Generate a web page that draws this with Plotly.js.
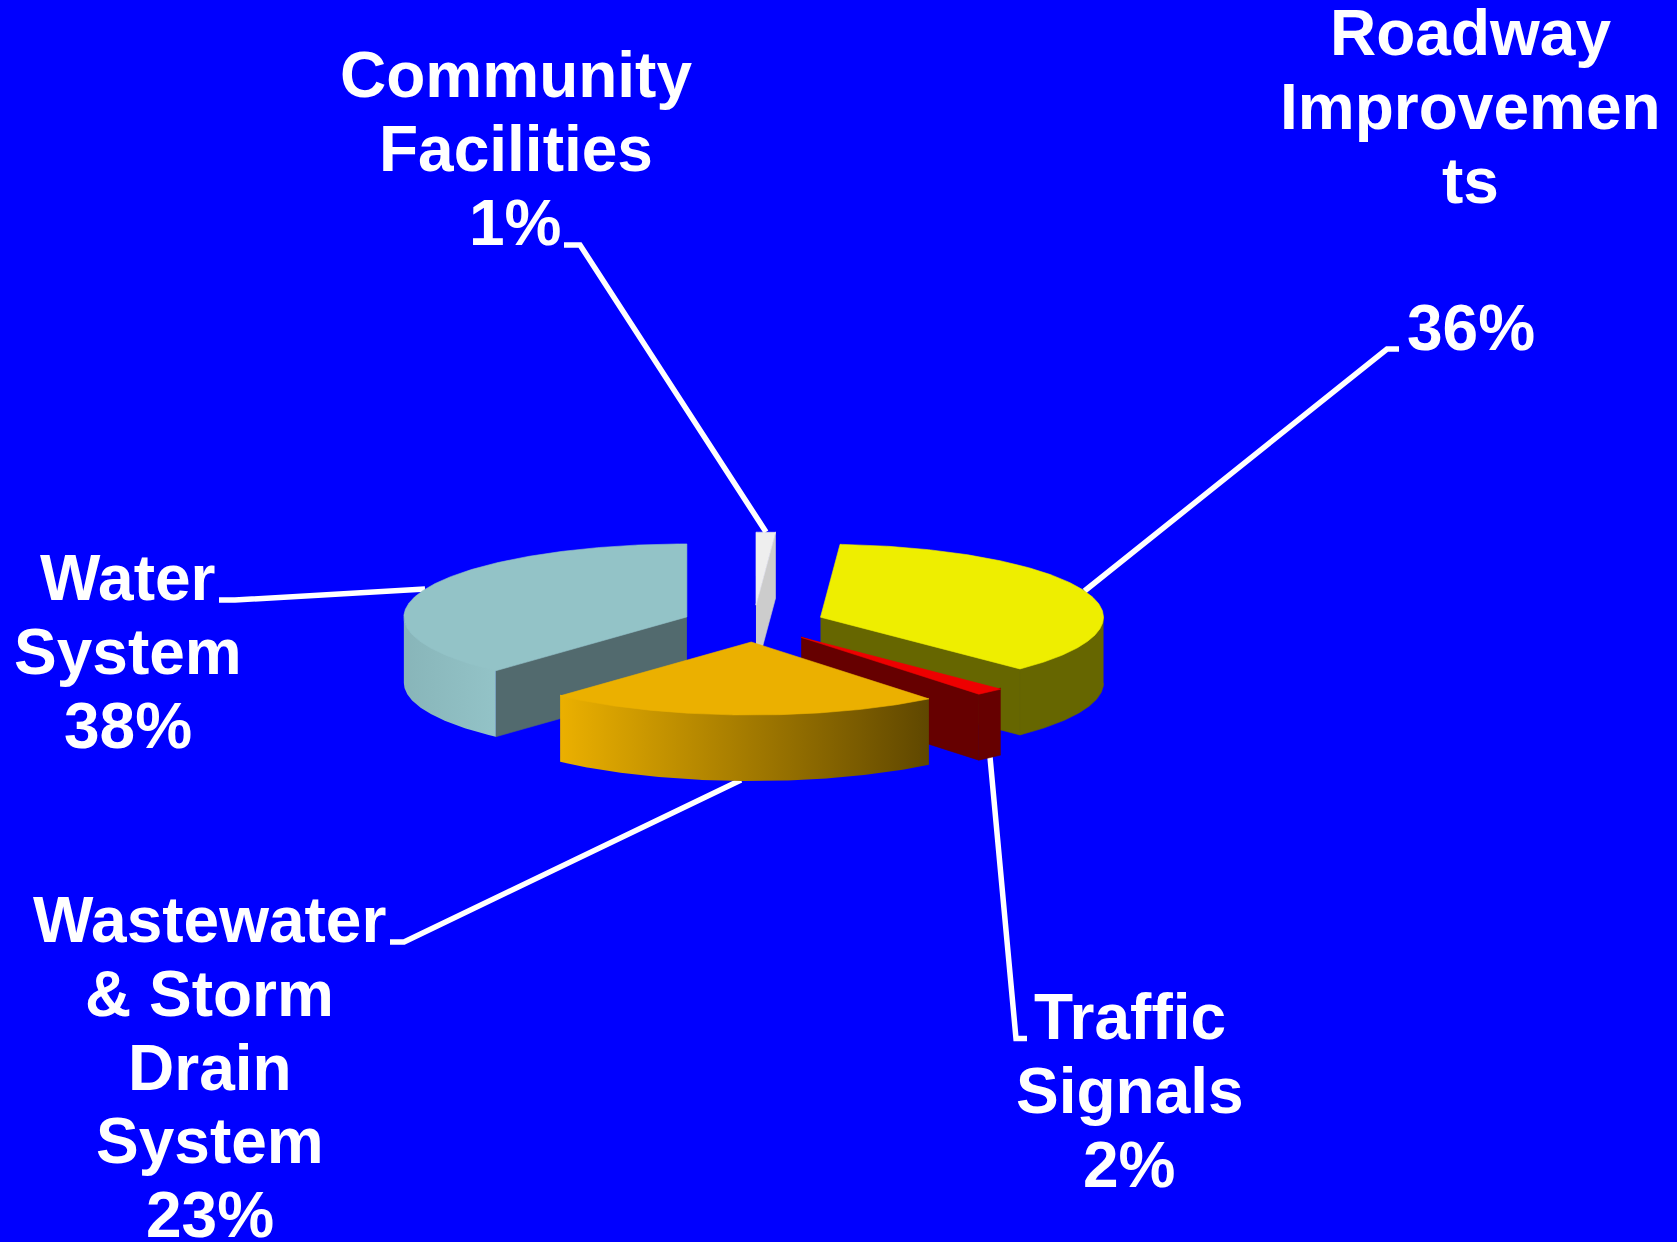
<!DOCTYPE html>
<html>
<head>
<meta charset="utf-8">
<script src="https://cdn.plot.ly/plotly-3.0.1.min.js"></script>
<style>html,body{margin:0;padding:0;background:#0000FF}#chart{width:1677px;height:1242px}</style>
</head>
<body>
<div id="chart"></div>
<script>
// Data: clockwise from the back of the pie
const categories = ["Community Facilities", "Roadway Improvements", "Traffic Signals", "Wastewater & Storm Drain System", "Water System"];
const shares = [1.1, 36.45, 1.65, 22.6, 38.2];
const topColors = ["#EEEEEE", "#EEEE00", "#EE0000", "#EBB000", "#93C3C7"];
const faceColors = ["#CCCCCC", "#666600", "#660000", "#EBB000", "#526A6E"];
const wallColors = [["#CCCCCC", "#CCCCCC"], ["#666600", "#666600"], ["#660000", "#660000"], ["#EBB000", "#5F4700"], ["#88B5B9", "#93C3C7"]];
// Painter's order: back slices first, front slice last
const drawOrder = [0, 4, 1, 2, 3];

// Label lines (text wraps as in the picture; the percentage is appended from the shares)
const labelLines = [
  ["Community", "Facilities"],
  ["Roadway", "Improvemen", "ts", ""],
  ["Traffic", "Signals"],
  ["Wastewater", "& Storm", "Drain", "System"],
  ["Water", "System"]
];
const labelCenterX = [515.5, 1470.5, 1129.5, 209.5, 127.5];
const labelFirstBaseline = [97.5, 55, 1039.5, 942, 600.5];
const lineStep = 73.8;
const fontSize = 64;

// Leader lines, one polyline per category
const leaderX = [[564, 580, 766], [1399, 1387, 1084.5], [1027, 1016, 990], [390, 404, 741], [219, 235, 425]];
const leaderY = [[245, 245, 532], [349, 349, 591], [1038.5, 1038.5, 757], [942, 942, 780], [600, 600, 589]];

// Pie projection
const pie = {cx: 753.5, cy: 623.6, r: 283, tilt: 73 / 283, depth: 66, pull: 71.5};

const rad = d => d * Math.PI / 180;
const traces = [];

function poly(name, xs, ys, color, gradient) {
  const t = {
    type: "scatter", mode: "lines", name: name, x: xs, y: ys, fill: "toself",
    hoverinfo: "skip", showlegend: false
  };
  if (gradient) {
    t.line = {width: 0, color: gradient[0]};
    t.fillgradient = {type: "horizontal", colorscale: [[0, gradient[0]], [1, gradient[1]]]};
  } else {
    t.line = {width: 0.6, color: color};
    t.fillcolor = color;
  }
  traces.push(t);
}

leaderX.forEach((xs, i) => traces.push({
  type: "scatter", mode: "lines", name: categories[i] + " leader", x: xs, y: leaderY[i],
  line: {color: "#FFFFFF", width: 5.5}, hoverinfo: "skip", showlegend: false
}));

const total = shares.reduce((a, b) => a + b, 0);
let acc = 0;
const spans = shares.map(v => { const a0 = acc / total * 360; acc += v; return [a0, acc / total * 360]; });

drawOrder.forEach(i => {
  const a0 = spans[i][0], a1 = spans[i][1];
  const mid = rad((a0 + a1) / 2);
  const ox = pie.cx + pie.pull * Math.sin(mid);
  const oy = pie.cy - pie.pull * pie.tilt * Math.cos(mid);
  const px = a => ox + pie.r * Math.sin(rad(a));
  const py = a => oy - pie.r * pie.tilt * Math.cos(rad(a));
  const steps = (s, e) => { const n = Math.max(2, Math.ceil(Math.abs(e - s) * 2)); return Array.from({length: n + 1}, (_, k) => s + (e - s) * k / n); };

  // radial cut face that turns toward the viewer: the trailing edge on the right side, the leading edge on the left
  const face = a1 <= 180 ? a1 : (a0 >= 180 ? a0 : null);
  if (face !== null) {
    poly(categories[i] + " cut face",
      [ox, px(face), px(face), ox],
      [oy - 0.5, py(face) - 0.5, py(face) + pie.depth, oy + pie.depth],
      faceColors[i]);
  }
  // outer wall, front half only
  const w0 = Math.max(a0, 90), w1 = Math.min(a1, 270);
  if (w1 > w0) {
    const as = steps(w0, w1);
    const rs = as.slice().reverse();
    const flat = wallColors[i][0] === wallColors[i][1];
    poly(categories[i] + " wall",
      as.map(px).concat(rs.map(px)),
      as.map(a => py(a) - 1).concat(rs.map(a => py(a) + pie.depth)),
      wallColors[i][0], flat ? null : wallColors[i]);
  }
  // top surface
  const as = steps(a0, a1);
  poly(categories[i], [ox].concat(as.map(px), [ox]), [oy].concat(as.map(py), [oy]), topColors[i]);
});

const annotations = [];
labelLines.forEach((lines, i) => {
  const all = lines.concat([Math.round(shares[i]) + "%"]);
  all.forEach((txt, k) => {
    if (!txt) return;
    annotations.push({
      x: labelCenterX[i], y: labelFirstBaseline[i] + k * lineStep - 0.345 * fontSize,
      xref: "x", yref: "y", xanchor: "center", yanchor: "middle",
      text: "<b>" + txt.replace("&", "&amp;") + "</b>", showarrow: false,
      font: {family: "Liberation Sans, Arial, sans-serif", size: fontSize, color: "#FFFFFF"}
    });
  });
});

Plotly.newPlot("chart", traces, {
  width: 1677, height: 1242,
  margin: {l: 0, r: 0, t: 0, b: 0},
  paper_bgcolor: "#0000FF", plot_bgcolor: "#0000FF",
  showlegend: false,
  xaxis: {range: [0, 1677], visible: false, fixedrange: true},
  yaxis: {range: [1242, 0], visible: false, fixedrange: true},
  annotations: annotations
}, {displayModeBar: false, staticPlot: true});
</script>
</body>
</html>
